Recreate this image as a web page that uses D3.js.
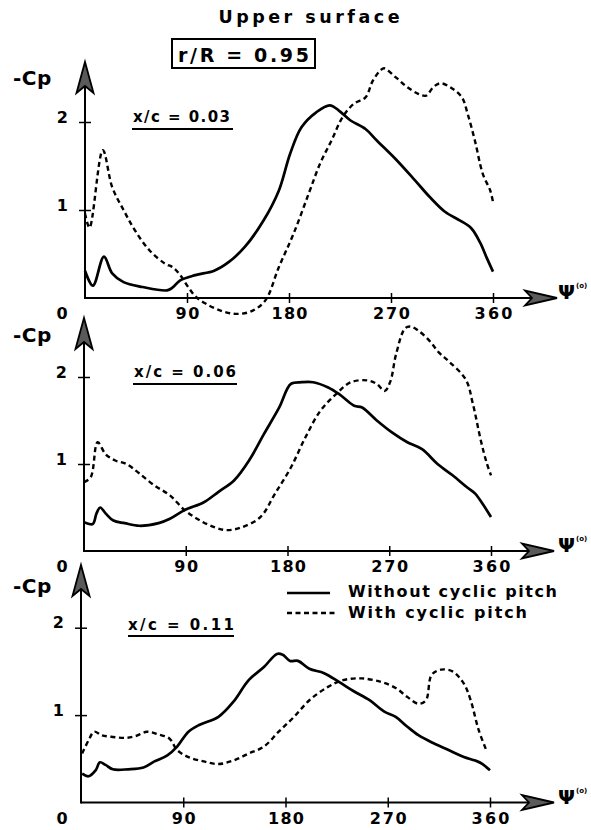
<!DOCTYPE html>
<html>
<head>
<meta charset="utf-8">
<script src="https://cdn.jsdelivr.net/npm/d3@7"></script>
<style>
  html, body { margin: 0; padding: 0; background: #fff; }
  svg { display: block; }
  text { font-family: "DejaVu Sans", "Liberation Sans", Arial, sans-serif; font-weight: bold; fill: #000; }
</style>
</head>
<body>
<svg id="chart" width="591" height="830"></svg>
<script>
// Surface pressure, upper surface at r/R = 0.95 : -Cp against azimuth psi (deg)
const xTicks = [90, 180, 270, 360];
const yTicks = [1, 2];
const stationLabels = ["x/c = 0.03", "x/c = 0.06", "x/c = 0.11"];
const seriesNames = ["Without cyclic pitch", "With cyclic pitch"];

// x/c = 0.03, [psi, -Cp]
const withoutPitch003 = [[0,0.31],[7,0.14],[16.7,0.47],[24,0.28],[34,0.18],[50.7,0.125],[72.4,0.087],[77.4,0.12],[84,0.2],[97.4,0.26],[114,0.31],[127,0.41],[141,0.58],[157.5,0.88],[171,1.22],[181,1.64],[191,1.94],[204,2.11],[216,2.19],[224,2.13],[234,2.02],[247.5,1.92],[257.5,1.79],[274,1.58],[291,1.34],[304,1.15],[317.6,0.98],[331,0.88],[341,0.79],[349,0.62],[354,0.47],[360,0.3]];
const withPitch003 = [[0,0.96],[4,0.8],[15.7,1.68],[24,1.26],[34,1.0],[44,0.77],[57,0.54],[70.7,0.39],[77.4,0.35],[84,0.26],[90.7,0.13],[97.4,0.02],[106,-0.06],[119,-0.14],[132.7,-0.18],[146,-0.155],[159,-0.03],[171,0.35],[184,0.73],[197.5,1.19],[207.5,1.53],[217.5,1.79],[227.5,2.06],[237.5,2.21],[247.5,2.28],[254,2.47],[261,2.59],[264,2.61],[274,2.51],[284,2.4],[294,2.32],[301,2.3],[307.6,2.4],[314,2.44],[324,2.38],[332.6,2.28],[337.7,2.09],[344,1.79],[351,1.41],[357.6,1.22],[360,1.09]];

// x/c = 0.06
const withoutPitch006 = [[0,0.33],[7.7,0.31],[11,0.43],[14.3,0.5],[19.3,0.43],[26,0.35],[36,0.32],[49,0.29],[66,0.32],[76,0.37],[89,0.47],[106,0.56],[119,0.68],[132.7,0.81],[146,1.04],[159,1.34],[172.7,1.65],[183,1.92],[192.7,1.94],[202.7,1.94],[216,1.88],[226,1.8],[239,1.67],[246,1.65],[259,1.5],[272.7,1.36],[286,1.25],[299,1.17],[312.7,1.0],[326,0.87],[339,0.73],[346,0.66],[352.7,0.54],[360,0.39]];
const withPitch006 = [[0,0.79],[6,0.85],[12,1.25],[19.3,1.11],[27.7,1.04],[37.7,1.0],[49,0.89],[62.7,0.75],[76,0.64],[89,0.47],[102.7,0.35],[116,0.27],[126,0.24],[139,0.27],[156,0.39],[169,0.66],[183,0.96],[196,1.31],[209,1.61],[222.7,1.8],[236,1.94],[251,1.96],[259,1.92],[266,1.84],[271,1.95],[276,2.26],[284,2.56],[289,2.58],[296,2.53],[306,2.41],[314,2.28],[322.7,2.18],[337.7,1.97],[344,1.69],[351,1.27],[356,1.02],[360,0.87]];

// x/c = 0.11
const withoutPitch011 = [[1,0.33],[6.6,0.3],[13,0.37],[16.6,0.46],[21.6,0.43],[28,0.38],[41.5,0.38],[55,0.4],[64.7,0.47],[76,0.54],[84.6,0.64],[94.6,0.81],[104.5,0.89],[121,0.98],[134,1.15],[147.6,1.4],[161,1.55],[172.5,1.7],[177.5,1.69],[184,1.62],[191,1.62],[201,1.53],[214,1.48],[227,1.38],[240.5,1.27],[254,1.17],[267,1.04],[277,0.98],[287,0.87],[297,0.77],[310,0.68],[323.5,0.6],[337,0.52],[347,0.48],[353.5,0.44],[360,0.37]];
const withPitch011 = [[1,0.56],[6.6,0.71],[11.6,0.81],[18,0.77],[28,0.75],[40,0.74],[48,0.76],[58,0.81],[68,0.78],[78,0.73],[84.6,0.6],[94.6,0.52],[108,0.47],[121,0.44],[134,0.48],[147.6,0.56],[161,0.64],[174,0.81],[187.5,0.98],[201,1.17],[217,1.32],[230.6,1.4],[247,1.42],[264,1.38],[277,1.31],[287,1.21],[297,1.13],[303.6,1.17],[308.6,1.46],[317,1.52],[327,1.5],[337,1.36],[343,1.17],[350,0.83],[356.7,0.6]];

const stationSeries = [
  [withoutPitch003, withPitch003],
  [withoutPitch006, withPitch006],
  [withoutPitch011, withPitch011]
];

// frame of each of the three stacked panels
const frames = [
  { x0: 85, x1: 493, y0: 298,   unit: 88,   top: 62,  cpBase: 85,  lab: [133, 122, 97,  132, 233, 129], tip: 557 },
  { x0: 84, x1: 491, y0: 551,   unit: 87,   top: 318, cpBase: 342, lab: [134, 377, 102, 133, 237, 384], tip: 554 },
  { x0: 81, x1: 490, y0: 802.5, unit: 87.4, top: 565, cpBase: 593, lab: [128, 630, 106, 128, 234, 636], tip: 554 }
];

const svg = d3.select("#chart");
const tickLen = { "90": 24, "180": 36, "270": 37, "360": 38 };

// heading
svg.append("text").attr("x", 309).attr("y", 23).attr("text-anchor", "middle")
  .attr("font-size", 17.5).attr("textLength", 181).attr("lengthAdjust", "spacing")
  .text("Upper surface");
svg.append("rect").attr("x", 172).attr("y", 39).attr("width", 143).attr("height", 29)
  .attr("fill", "none").attr("stroke", "#000").attr("stroke-width", 2);
svg.append("text").attr("x", 178).attr("y", 62)
  .attr("font-size", 19).attr("textLength", 131).attr("lengthAdjust", "spacing")
  .text("r/R = 0.95");

frames.forEach((f, i) => {
  const g = svg.append("g");
  const x = d3.scaleLinear().domain([0, 360]).range([f.x0, f.x1]);
  const y = d3.scaleLinear().domain([0, 2]).range([f.y0, f.y0 - 2 * f.unit]);

  // horizontal axis with ticks crossing the line
  const xa = g.append("g").attr("transform", `translate(0,${f.y0})`)
    .call(d3.axisBottom(x).tickValues(xTicks).tickSize(5).tickFormat(d3.format("d")));
  xa.select(".domain").remove();
  xa.selectAll(".tick line").attr("y1", -5).attr("y2", 5).attr("stroke", "#000").attr("stroke-width", 1.5);
  xa.selectAll(".tick text").attr("y", 21).attr("dy", 0)
    .attr("font-size", 16).attr("font-family", null)
    .attr("textLength", d => tickLen[d]).attr("lengthAdjust", "spacing");
  g.append("line").attr("x1", f.x0).attr("x2", f.tip - 20).attr("y1", f.y0).attr("y2", f.y0)
    .attr("stroke", "#000").attr("stroke-width", 2);
  const t = f.tip, yy = f.y0;
  g.append("path")
    .attr("d", `M${t},${yy} L${t - 32},${yy - 7.5} L${t - 25},${yy} L${t - 32},${yy + 7.5} Z`)
    .attr("fill", "#5a5a5a").attr("stroke", "#000").attr("stroke-width", 1.8).attr("stroke-linejoin", "miter");

  // vertical axis
  const ya = g.append("g").attr("transform", `translate(${f.x0},0)`)
    .call(d3.axisLeft(y).tickValues(yTicks).tickSize(6).tickFormat(d3.format("d")));
  ya.select(".domain").remove();
  ya.selectAll(".tick line").attr("x1", -6).attr("x2", 6).attr("stroke", "#000").attr("stroke-width", 1.5);
  ya.selectAll(".tick text").attr("x", -17).attr("dy", 0).attr("text-anchor", "end")
    .attr("font-size", 16).attr("font-family", null);
  g.append("line").attr("x1", f.x0).attr("x2", f.x0).attr("y1", f.y0 + 1).attr("y2", f.top + 20)
    .attr("stroke", "#000").attr("stroke-width", 2);
  const ax = f.x0, at = f.top;
  g.append("path")
    .attr("d", `M${ax},${at} L${ax + 8.5},${at + 31} L${ax},${at + 24} L${ax - 8.5},${at + 31} Z`)
    .attr("fill", "#5a5a5a").attr("stroke", "#000").attr("stroke-width", 1.8);

  // axis titles
  g.append("text").attr("x", 62).attr("y", f.y0 + 21).attr("text-anchor", "middle")
    .attr("font-size", 16).text("0");
  g.append("text").attr("x", 13).attr("y", f.cpBase).attr("font-size", 20)
    .attr("letter-spacing", 0.5).text("-Cp");
  const psi = g.append("text").attr("x", 558).attr("y", f.y0 + 1).attr("font-size", 20);
  psi.append("tspan").text("\u03A8");
  psi.append("tspan").attr("font-size", 7).attr("dy", -11).attr("dx", 1).text("(o)");

  // station label, underlined
  const [lx, lb, lw, ux1, ux2, uy] = f.lab;
  g.append("text").attr("x", lx).attr("y", lb).attr("font-size", 15)
    .attr("textLength", lw).attr("lengthAdjust", "spacing").text(stationLabels[i]);
  g.append("line").attr("x1", ux1).attr("x2", ux2).attr("y1", uy).attr("y2", uy)
    .attr("stroke", "#000").attr("stroke-width", 2);

  // the two curves
  const line = d3.line().x(d => x(d[0])).y(d => y(d[1])).curve(d3.curveCatmullRom.alpha(0.5));
  const [solid, dashed] = stationSeries[i];
  g.append("path").datum(solid).attr("d", line)
    .attr("fill", "none").attr("stroke", "#000").attr("stroke-width", 2.7).attr("stroke-linejoin", "round");
  g.append("path").datum(dashed).attr("d", line)
    .attr("fill", "none").attr("stroke", "#000").attr("stroke-width", 2.4)
    .attr("stroke-dasharray", "5,3.5");
});

// legend inside the lowest panel
const legend = svg.append("g");
const legendRows = [
  { y: 593, text: 597, len: 209, dash: null, x2: 330 },
  { y: 613, text: 618, len: 179, dash: "5,3.5", x2: 335 }
];
legendRows.forEach((r, k) => {
  legend.append("line").attr("x1", 287).attr("x2", r.x2).attr("y1", r.y).attr("y2", r.y)
    .attr("stroke", "#000").attr("stroke-width", k === 0 ? 2.7 : 2.4)
    .attr("stroke-dasharray", r.dash);
  legend.append("text").attr("x", 348).attr("y", r.text).attr("font-size", 16)
    .attr("textLength", r.len).attr("lengthAdjust", "spacing").text(seriesNames[k]);
});
</script>
</body>
</html>
